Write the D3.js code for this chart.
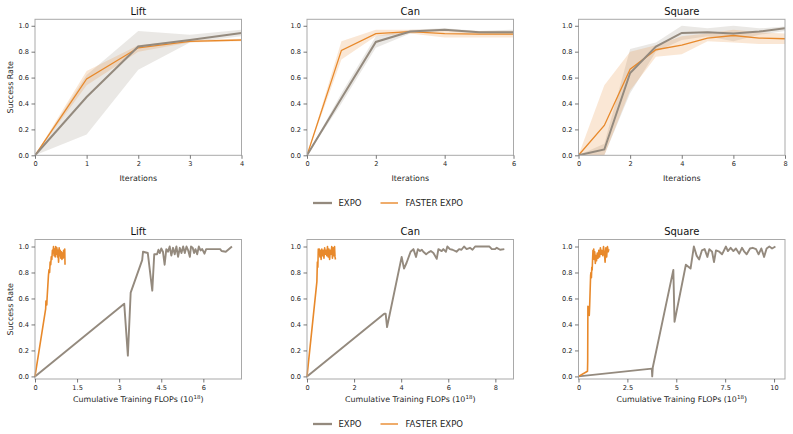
<!DOCTYPE html>
<html>
<head>
<meta charset="utf-8">
<script src="https://cdn.jsdelivr.net/npm/d3@7"></script>
<style>
  html, body { margin: 0; padding: 0; background: #fff; }
  svg { display: block; font-family: "DejaVu Sans", sans-serif; }
</style>
</head>
<body>
<svg id="chart" width="793" height="434"></svg>
<script>
// ---------------- DATA ----------------
const seriesNames = ["EXPO", "FASTER EXPO"];
const panelTitles = ["Lift", "Can", "Square"];

// Top row: success rate vs iterations (mean and shaded band)
const liftIter = [0, 1, 2, 3, 4];
const liftExpoMean = [0, 0.45, 0.84, 0.89, 0.945];
const liftExpoLo   = [0, 0.16, 0.66, 0.87, 0.92];
const liftExpoHi   = [0, 0.62, 0.96, 0.93, 0.97];
const liftFastMean = [0, 0.59, 0.83, 0.88, 0.89];
const liftFastLo   = [0, 0.54, 0.80, 0.87, 0.88];
const liftFastHi   = [0, 0.65, 0.85, 0.89, 0.90];

const canIter = [0, 1, 2, 3, 4, 5, 6];
const canExpoMean = [0, 0.44, 0.875, 0.955, 0.97, 0.95, 0.95];
const canExpoLo   = [0, 0.40, 0.83, 0.94, 0.96, 0.94, 0.93];
const canExpoHi   = [0, 0.48, 0.92, 0.97, 0.98, 0.96, 0.97];
const canFastMean = [0, 0.81, 0.94, 0.955, 0.94, 0.935, 0.935];
const canFastLo   = [0, 0.74, 0.92, 0.94, 0.91, 0.91, 0.91];
const canFastHi   = [0, 0.88, 0.97, 0.97, 0.97, 0.96, 0.96];

const squareIter = [0, 1, 2, 3, 4, 5, 6, 7, 8];
const squareExpoMean = [0, 0.045, 0.635, 0.84, 0.945, 0.95, 0.94, 0.955, 0.98];
const squareExpoLo   = [0, 0.0, 0.48, 0.80, 0.89, 0.92, 0.88, 0.93, 0.96];
const squareExpoHi   = [0, 0.09, 0.82, 0.87, 1.0, 0.98, 1.0, 0.98, 0.995];
const squareFastMean = [0, 0.23, 0.665, 0.815, 0.85, 0.905, 0.925, 0.905, 0.90];
const squareFastLo   = [0, 0.0, 0.50, 0.76, 0.78, 0.88, 0.87, 0.86, 0.86];
const squareFastHi   = [0, 0.54, 0.80, 0.85, 0.92, 0.94, 0.97, 0.95, 0.94];

const topXTicks = [[0, 1, 2, 3, 4], [0, 2, 4, 6], [0, 2, 4, 6, 8]];
const yTicks = [0, 0.2, 0.4, 0.6, 0.8, 1.0];

// Bottom row: success rate vs cumulative FLOPs (1e18), [flops, success]
const liftExpoFlops = [[0,0],[3.18,0.56],[3.31,0.16],[3.41,0.645],[3.82,0.895],[3.85,0.96],[4.02,0.95],[4.18,0.66],[4.25,0.94],[4.35,0.94],[4.40,0.975],[4.45,0.95],[4.50,0.985],[4.56,0.96],[4.62,0.86],[4.68,0.98],[4.74,0.96],[4.80,1.0],[4.86,0.93],[4.92,0.99],[4.98,0.94],[5.04,1.0],[5.10,0.92],[5.16,0.99],[5.22,0.95],[5.28,1.0],[5.34,0.95],[5.40,1.0],[5.46,0.97],[5.52,0.92],[5.56,1.0],[5.62,0.99],[5.67,0.95],[5.72,0.98],[5.78,0.94],[5.84,1.0],[5.90,0.97],[5.96,0.98],[6.04,0.945],[6.10,0.98],[6.60,0.98],[6.65,0.965],[6.80,0.96],[7.02,1.0]];
const liftFastFlops = [[0,0],[0.38,0.52],[0.39,0.58],[0.40,0.55],[0.42,0.55],[0.43,0.60],[0.48,0.78],[0.50,0.82],[0.52,0.80],[0.54,0.88],[0.56,0.86],[0.58,0.92],[0.60,0.90],[0.62,0.97],[0.64,0.95],[0.66,1.0],[0.68,0.93],[0.70,0.98],[0.72,0.92],[0.74,1.0],[0.76,0.94],[0.78,0.99],[0.80,0.92],[0.82,0.97],[0.84,0.88],[0.86,0.99],[0.88,0.93],[0.90,0.97],[0.92,0.91],[0.94,0.96],[0.96,0.90],[0.98,0.95],[1.00,0.91],[1.02,0.97],[1.04,0.92],[1.06,0.98],[1.07,0.86]];

const canExpoFlops = [[0,0],[3.28,0.483],[3.34,0.483],[3.40,0.38],[4.02,0.92],[4.12,0.83],[4.23,0.875],[4.40,0.96],[4.52,0.98],[4.63,0.92],[4.71,0.98],[4.80,0.965],[4.88,0.975],[4.94,0.96],[5.06,0.94],[5.16,0.955],[5.26,0.965],[5.37,0.95],[5.51,0.905],[5.58,0.98],[5.72,0.965],[5.79,0.98],[5.90,0.96],[5.96,1.0],[6.07,0.98],[6.18,0.975],[6.35,0.96],[6.46,0.98],[6.56,0.975],[6.67,1.0],[6.78,0.98],[6.92,0.99],[7.03,0.975],[7.14,1.0],[7.50,1.0],[7.75,1.0],[7.85,0.98],[7.99,0.98],[8.06,0.99],[8.20,0.975],[8.38,0.98]];
const canFastFlops = [[0,0],[0.42,0.73],[0.44,0.88],[0.46,0.84],[0.48,0.98],[0.50,0.95],[0.52,0.98],[0.55,0.92],[0.58,0.97],[0.60,0.90],[0.63,0.98],[0.66,0.93],[0.69,0.97],[0.72,0.91],[0.75,0.99],[0.78,0.94],[0.81,0.97],[0.84,0.93],[0.87,1.0],[0.90,0.92],[0.93,0.98],[0.96,0.90],[0.99,0.97],[1.02,0.94],[1.05,1.0],[1.08,0.91],[1.11,0.99],[1.14,0.93],[1.17,1.0],[1.19,0.92],[1.21,0.90]];

const squareExpoFlops = [[0,0],[3.75,0.06],[3.77,0.0],[3.80,0.07],[4.85,0.82],[4.91,0.42],[5.49,0.86],[5.73,0.83],[5.90,1.0],[6.04,0.93],[6.17,0.90],[6.31,0.97],[6.45,0.98],[6.59,0.92],[6.69,0.98],[6.83,0.96],[6.93,0.88],[7.03,0.97],[7.20,0.96],[7.34,0.94],[7.54,1.0],[7.64,0.965],[7.78,0.99],[7.92,0.965],[8.05,0.985],[8.22,0.945],[8.36,0.99],[8.48,0.96],[8.60,0.94],[8.77,0.985],[8.91,0.99],[9.08,0.98],[9.21,0.94],[9.35,0.985],[9.49,0.92],[9.62,0.985],[9.76,1.0],[9.90,0.985],[10.07,1.0]];
const squareFastFlops = [[0,0],[0.46,0.04],[0.47,0.12],[0.48,0.54],[0.52,0.53],[0.55,0.47],[0.57,0.54],[0.62,0.78],[0.64,0.80],[0.66,0.76],[0.68,0.84],[0.70,0.82],[0.72,0.90],[0.74,0.97],[0.76,0.92],[0.78,0.98],[0.80,0.90],[0.83,0.96],[0.86,0.87],[0.89,0.93],[0.92,0.89],[0.96,0.95],[1.00,0.91],[1.04,0.97],[1.08,0.92],[1.12,0.99],[1.16,0.94],[1.20,0.97],[1.24,0.93],[1.28,1.0],[1.32,0.95],[1.36,0.88],[1.40,0.99],[1.44,0.92],[1.48,1.0],[1.52,0.96],[1.55,0.98]];

const bottomXTicks = [[0, 1.5, 3, 4.5, 6], [0, 2, 4, 6, 8], [0, 2.5, 5, 7.5, 10]];
const bottomXMax = [7.36, 8.77, 10.56];

// ---------------- STYLE / LAYOUT ----------------
const C_EXPO = "#948a7e";
const C_FAST = "#e8892b";
const SPINE = "#a9a9a9";
const TEXT = "#262626";
const panelLefts = [35, 307, 578.5];
const panelW = 206.5;
const topRow = { top: 19.3, bottom: 155.3 };
const botRow = { top: 239.5, bottom: 379 };

const svg = d3.select("#chart");

function zip(xs, ys) { return xs.map((x, i) => [x, ys[i]]); }

const topPanels = [
  { it: liftIter, em: liftExpoMean, el: liftExpoLo, eh: liftExpoHi, fm: liftFastMean, fl: liftFastLo, fh: liftFastHi },
  { it: canIter, em: canExpoMean, el: canExpoLo, eh: canExpoHi, fm: canFastMean, fl: canFastLo, fh: canFastHi },
  { it: squareIter, em: squareExpoMean, el: squareExpoLo, eh: squareExpoHi, fm: squareFastMean, fl: squareFastLo, fh: squareFastHi }
];
const botPanels = [
  { e: liftExpoFlops, f: liftFastFlops },
  { e: canExpoFlops, f: canFastFlops },
  { e: squareExpoFlops, f: squareFastFlops }
];

function drawAxes(g, x, y, xt, yt, fmtX, row) {
  const xAxis = d3.axisBottom(x).tickValues(xt).tickSize(3.5).tickPadding(2.5).tickFormat(fmtX);
  const yAxis = d3.axisLeft(y).tickValues(yt).tickSize(3.5).tickPadding(2.5).tickFormat(d3.format(".1f"));
  const gx = g.append("g").attr("transform", `translate(0,${row.bottom})`).call(xAxis);
  const gy = g.append("g").attr("transform", `translate(${x.range()[0]},0)`).call(yAxis);
  [gx, gy].forEach(a => {
    a.select(".domain").remove();
    a.selectAll(".tick line").attr("stroke", "#555").attr("stroke-width", 0.8);
    a.selectAll(".tick text").attr("fill", TEXT).attr("font-size", 6.6).attr("font-family", "DejaVu Sans");
  });
}

function frame(g, x, row) {
  g.append("rect")
    .attr("x", x.range()[0]).attr("y", row.top)
    .attr("width", x.range()[1] - x.range()[0]).attr("height", row.bottom - row.top)
    .attr("fill", "none").attr("stroke", SPINE).attr("stroke-width", 1);
}

// ---------------- TOP ROW ----------------
topPanels.forEach((p, i) => {
  const g = svg.append("g");
  const x = d3.scaleLinear().domain([0, d3.max(p.it)]).range([panelLefts[i], panelLefts[i] + panelW]);
  const y = d3.scaleLinear().domain([0, 1.05]).range([topRow.bottom, topRow.top]);
  const clipId = "clipT" + i;
  svg.append("clipPath").attr("id", clipId).append("rect")
    .attr("x", x.range()[0]).attr("y", topRow.top).attr("width", panelW).attr("height", topRow.bottom - topRow.top);
  const area = d3.area().x(d => x(d[0])).y0(d => y(d[1])).y1(d => y(d[2]));
  const line = d3.line().x(d => x(d[0])).y(d => y(d[1]));
  const pg = g.append("g").attr("clip-path", `url(#${clipId})`);
  pg.append("path").datum(p.it.map((v, k) => [v, p.el[k], p.eh[k]]))
    .attr("d", area).attr("fill", C_EXPO).attr("fill-opacity", 0.2);
  pg.append("path").datum(p.it.map((v, k) => [v, p.fl[k], p.fh[k]]))
    .attr("d", area).attr("fill", C_FAST).attr("fill-opacity", 0.2);
  pg.append("path").datum(zip(p.it, p.fm)).attr("d", line)
    .attr("fill", "none").attr("stroke", C_FAST).attr("stroke-width", 1.3);
  pg.append("path").datum(zip(p.it, p.em)).attr("d", line)
    .attr("fill", "none").attr("stroke", C_EXPO).attr("stroke-width", 2);
  frame(g, x, topRow);
  drawAxes(g, x, y, topXTicks[i], yTicks, d3.format("d"), topRow);
  g.append("text").attr("x", (x.range()[0] + x.range()[1]) / 2).attr("y", 14.5)
    .attr("text-anchor", "middle").attr("font-size", 10).attr("fill", "#111").text(panelTitles[i]);
  g.append("text").attr("x", (x.range()[0] + x.range()[1]) / 2).attr("y", 181)
    .attr("text-anchor", "middle").attr("font-size", 7.9).attr("fill", TEXT).text("Iterations");
  if (i === 0) {
    g.append("text").attr("transform", `translate(12.5,${(topRow.top + topRow.bottom) / 2}) rotate(-90)`)
      .attr("text-anchor", "middle").attr("font-size", 7.9).attr("fill", TEXT).text("Success Rate");
  }
});

// ---------------- BOTTOM ROW ----------------
botPanels.forEach((p, i) => {
  const g = svg.append("g");
  const x = d3.scaleLinear().domain([0, bottomXMax[i]]).range([panelLefts[i], panelLefts[i] + panelW]);
  const y = d3.scaleLinear().domain([-0.02, 1.054]).range([botRow.bottom, botRow.top]);
  const line = d3.line().x(d => x(d[0])).y(d => y(d[1]));
  g.append("path").datum(p.e).attr("d", line)
    .attr("fill", "none").attr("stroke", C_EXPO).attr("stroke-width", 1.9).attr("stroke-linejoin", "round");
  g.append("path").datum(p.f).attr("d", line)
    .attr("fill", "none").attr("stroke", C_FAST).attr("stroke-width", 1.6).attr("stroke-linejoin", "round");
  frame(g, x, botRow);
  drawAxes(g, x, y, bottomXTicks[i], yTicks, d => String(d), botRow);
  const cx = (x.range()[0] + x.range()[1]) / 2;
  g.append("text").attr("x", cx).attr("y", 234.5)
    .attr("text-anchor", "middle").attr("font-size", 10).attr("fill", "#111").text(panelTitles[i]);
  const lab = g.append("text").attr("x", cx).attr("y", 402)
    .attr("text-anchor", "middle").attr("font-size", 7.9).attr("fill", TEXT);
  lab.append("tspan").text("Cumulative Training FLOPs (10");
  lab.append("tspan").attr("font-size", 5.5).attr("dy", -3).text("18");
  lab.append("tspan").attr("dy", 3).text(")");
  if (i === 0) {
    g.append("text").attr("transform", `translate(12.5,${(botRow.top + botRow.bottom) / 2}) rotate(-90)`)
      .attr("text-anchor", "middle").attr("font-size", 7.9).attr("fill", TEXT).text("Success Rate");
  }
});

// ---------------- LEGENDS ----------------
function legend(yc) {
  const items = [
    { name: seriesNames[0], color: C_EXPO, w: 2.3, x0: 313, x1: 332, tx: 338.5 },
    { name: seriesNames[1], color: C_FAST, w: 1.4, x0: 380.5, x1: 398, tx: 405.5 }
  ];
  const lg = svg.append("g");
  items.forEach(it => {
    lg.append("line").attr("x1", it.x0).attr("x2", it.x1).attr("y1", yc).attr("y2", yc)
      .attr("stroke", it.color).attr("stroke-width", it.w);
    lg.append("text").attr("x", it.tx).attr("y", yc + 3).attr("font-size", 8.5)
      .attr("fill", TEXT).text(it.name);
  });
}
legend(203);
legend(424);
</script>
</body>
</html>
